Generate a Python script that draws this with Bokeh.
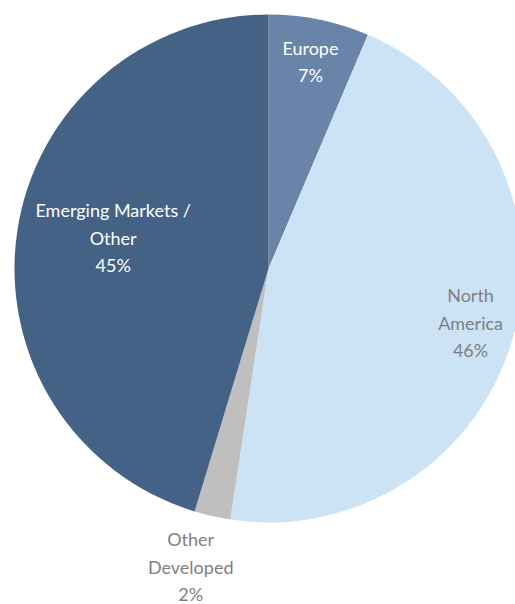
import numpy as np
from bokeh.plotting import figure
from bokeh.models import ColumnDataSource, Range1d
from bokeh.core.properties import value
from bokeh.embed import file_html
from bokeh.resources import INLINE

# data
regions = ["Europe", "North America", "Other Developed", "Emerging Markets / Other"]
shares = [6.4, 46.0, 2.3, 45.3]
labels = ["Europe\n7%", "North\nAmerica\n46%", "Other\nDeveloped\n2%", "Emerging Markets /\nOther\n45%"]
colors = ["#6a83a8", "#cce3f5", "#bfbfbf", "#446186"]
label_colors = ["#ffffff", "#7f7f7f", "#7f7f7f", "#ffffff"]

W, H = 515, 604
cx, cy, R = 268, H - 268, 254
label_r = [210, 209, 311, 155]
label_dx = [0, 1, -9, -2]
label_dy = [1, 3, 5, 8]

frac = np.array(shares) / sum(shares)
cum = np.concatenate([[0], np.cumsum(frac)])
start = np.pi / 2 - 2 * np.pi * cum[:-1]
end = np.pi / 2 - 2 * np.pi * cum[1:]
mid = (start + end) / 2
lx = cx + np.array(label_r) * np.cos(mid) + np.array(label_dx)
ly = cy + np.array(label_r) * np.sin(mid) + np.array(label_dy)

src = ColumnDataSource(dict(start=start, end=end, color=colors,
                            lx=lx, ly=ly, label=labels, lcolor=label_colors))

p = figure(width=W, height=H, output_backend="svg", toolbar_location=None,
           x_range=Range1d(0, W), y_range=Range1d(0, H), min_border=0)
p.axis.visible = False
p.grid.visible = False
p.outline_line_color = None
p.background_fill_color = "white"

p.wedge(x=cx, y=cy, radius=R, start_angle="end", end_angle="start",
        fill_color="color", line_color=None, source=src)

p.text(x="lx", y="ly", text="label", text_color="lcolor", source=src,
       text_align="center", text_baseline="middle",
       text_font=value("Lato"), text_font_size="18px", text_line_height=1.25)

open("out.html", "w").write(file_html(p, INLINE))
